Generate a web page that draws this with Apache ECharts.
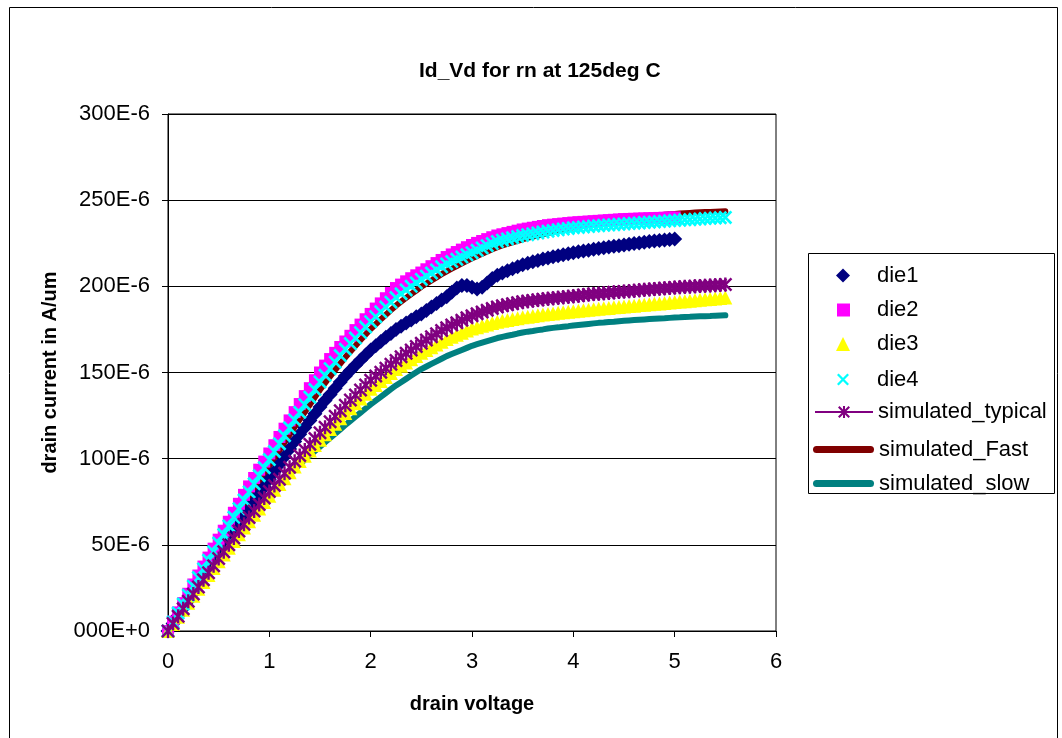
<!DOCTYPE html>
<html>
<head>
<meta charset="utf-8">
<script src="https://cdn.jsdelivr.net/npm/echarts@6.0.0/dist/echarts.min.js"></script>
<style>
  html, body { margin: 0; padding: 0; background: #ffffff; }
  #chart { width: 1062px; height: 738px; }
</style>
</head>
<body>
<div id="chart"></div>
<script>
// Drain voltage sweep (V)
const vd = [
  0,0.05,0.1,0.15,0.2,0.25,0.3,0.35,0.4,0.45,
  0.5,0.55,0.6,0.65,0.7,0.75,0.8,0.85,0.9,0.95,
  1,1.05,1.1,1.15,1.2,1.25,1.3,1.35,1.4,1.45,
  1.5,1.55,1.6,1.65,1.7,1.75,1.8,1.85,1.9,1.95,
  2,2.05,2.1,2.15,2.2,2.25,2.3,2.35,2.4,2.45,
  2.5,2.55,2.6,2.65,2.7,2.75,2.8,2.85,2.9,2.95,
  3,3.05,3.1,3.15,3.2,3.25,3.3,3.35,3.4,3.45,
  3.5,3.55,3.6,3.65,3.7,3.75,3.8,3.85,3.9,3.95,
  4,4.05,4.1,4.15,4.2,4.25,4.3,4.35,4.4,4.45,
  4.5,4.55,4.6,4.65,4.7,4.75,4.8,4.85,4.9,4.95,
  5,5.05,5.1,5.15,5.2,5.25,5.3,5.35,5.4,5.45,
  5.5
];

// Drain current, in units of 1E-6 A/um
const die1 = [
  0,4.4,8.8,13.2,17.6,22,26.4,30.8,35.2,39.6,
  44,48.4,52.8,57.2,61.6,66,70.4,74.8,79.2,83.6,
  88,92.4,96.8,101.2,105.6,110,114.1,118.1,122.1,126.1,
  130,133.7,137.3,140.9,144.5,148,151.1,154.2,157.2,160.1,
  163,165.5,168,170.4,172.7,175,176.9,178.7,180.5,182.3,
  184,186,188,190,192,194,196.5,199,200.5,200.5,
  199.5,198.5,199.5,202,204.5,206.5,207.8,209,210.2,211.4,
  212.5,213.4,214.2,215,215.8,216.5,217.1,217.7,218.3,218.9,
  219.5,220,220.5,221,221.5,222,222.4,222.8,223.2,223.6,
  224,224.4,224.8,225.2,225.6,226,226.3,226.6,226.9,227.2,
  227.5
];
const die2 = [
  0,5.4,10.8,16.2,21.6,27,32.2,37.4,42.6,47.8,
  53,58.2,63.4,68.6,73.8,79,83.9,88.8,93.6,98.3,
  103,107.8,112.6,117.4,122.2,127,131.7,136.3,140.9,145.5,
  150,154,157.8,161.4,164.8,168,171.3,174.6,177.8,180.9,
  184,187.1,190.1,193.1,196.1,199,201,202.9,204.7,206.4,
  208,209.9,211.7,213.5,215.3,217,218.5,219.9,221.3,222.7,
  224,225.2,226.3,227.4,228.5,229.5,230.2,230.9,231.6,232.3,
  233,233.5,234,234.5,235,235.5,235.8,236.1,236.4,236.7,
  237,237.2,237.4,237.6,237.8,238,238.2,238.4,238.6,238.8,
  239,239.1,239.2,239.3,239.4,239.5,239.6,239.7,239.8,239.9,
  240
];
const die3 = [
  0,4.1,8.2,12.3,16.4,20.5,24.5,28.5,32.5,36.5,
  40.5,44.4,48.3,52.2,56.1,60,63.7,67.4,71.1,74.8,
  78.5,81.9,85.3,88.7,92.1,95.5,98.6,101.7,104.8,107.9,
  111,114.1,117.2,120.3,123.4,126.5,129.3,132.1,134.9,137.7,
  140.5,142.8,145.1,147.4,149.7,152,153.9,155.8,157.7,159.6,
  161.5,163.1,164.7,166.3,167.9,169.5,170.7,171.9,173.1,174.3,
  175.5,176.3,177.1,177.9,178.7,179.5,180,180.5,181,181.5,
  182,182.4,182.8,183.2,183.6,184,184.3,184.6,184.9,185.2,
  185.5,185.8,186.1,186.4,186.7,187,187.3,187.5,187.8,188,
  188.3,188.6,188.8,189.1,189.3,189.6,189.9,190.1,190.4,190.6,
  190.9,191.2,191.4,191.7,191.9,192.2,192.5,192.7,193,193.2,
  193.5
];
const die4 = [
  0,5.2,10.4,15.6,20.8,26,31,36,41,46,
  51,56,61,66,71,76,80.7,85.4,90.1,94.8,
  99.5,104.1,108.7,113.3,117.9,122.5,126.9,131.3,135.7,140.1,
  144.5,148.4,152.2,156,159.8,163.5,166.8,170,173.2,176.4,
  179.5,182.4,185.2,188,190.8,193.5,195.7,197.9,200,202,
  204,205.9,207.7,209.5,211.3,213,214.4,215.7,217,218.3,
  219.5,220.9,222.3,223.6,224.8,226,226.8,227.5,228.2,228.9,
  229.5,230,230.5,231,231.5,232,232.4,232.8,233.2,233.6,
  234,234.2,234.5,234.7,235,235.2,235.4,235.6,235.8,236,
  236.2,236.4,236.6,236.8,237,237.2,237.4,237.6,237.8,238,
  238.2,238.4,238.6,238.7,238.9,239.1,239.3,239.5,239.6,239.8,
  240
];
const simTypical = [
  0,4.3,8.6,12.9,17.2,21.5,25.6,29.7,33.8,37.9,
  42,46,50,54,58,62,65.8,69.6,73.4,77.2,
  81,84.5,88,91.5,95,98.5,101.8,105.1,108.4,111.7,
  115,118.2,121.4,124.6,127.8,131,134,137,139.9,142.7,
  145.5,147.9,150.2,152.5,154.8,157,159.1,161.1,163.1,165.1,
  167,168.9,170.7,172.5,174.3,176,177.5,178.9,180.3,181.7,
  183,184.1,185.1,186.1,187.1,188,188.7,189.3,189.9,190.5,
  191,191.4,191.8,192.1,192.5,192.8,193.1,193.4,193.7,194,
  194.3,194.6,194.9,195.2,195.5,195.7,196,196.2,196.5,196.7,
  197,197.2,197.5,197.7,198,198.2,198.4,198.6,198.9,199.1,
  199.3,199.5,199.7,199.8,200,200.2,200.4,200.5,200.7,200.8,
  201
];
const simFast = [
  0,4.9,9.8,14.7,19.6,24.5,29.3,34.1,38.9,43.7,
  48.5,53.3,58.1,62.9,67.7,72.5,77.2,81.9,86.6,91.3,
  96,100.5,105,109.5,114,118.5,122.8,127.1,131.4,135.7,
  140,143.9,147.7,151.5,155.2,158.8,162.2,165.5,168.8,172,
  175.2,178,180.8,183.5,186.2,188.8,191.1,193.3,195.5,197.6,
  199.7,201.6,203.4,205.2,207,208.7,210.3,211.8,213.3,214.8,
  216.2,217.6,218.9,220.2,221.5,222.7,223.7,224.6,225.5,226.4,
  227.3,228.1,228.8,229.5,230.2,230.9,231.6,232.3,233,233.7,
  234.3,234.8,235.3,235.8,236.3,236.8,237.2,237.6,238,238.4,
  238.8,239.2,239.6,240,240.3,240.6,240.9,241.2,241.5,241.8,
  242,242.2,242.4,242.6,242.8,243,243.1,243.2,243.3,243.4,
  243.5
];
const simSlow = [
  0,4.1,8.2,12.3,16.4,20.5,24.6,28.7,32.8,36.9,
  41,44.8,48.6,52.4,56.2,60,63.6,67.2,70.8,74.4,
  78,81.3,84.6,87.8,90.9,94,96.7,99.3,101.9,104.5,
  107,109.5,112,114.5,117,119.5,121.9,124.3,126.7,129.1,
  131.5,133.7,135.9,138.1,140.3,142.5,144.4,146.3,148.2,150.1,
  152,153.5,155,156.5,158,159.5,160.7,161.9,163.1,164.3,
  165.5,166.4,167.3,168.2,169.1,170,170.7,171.3,171.9,172.6,
  173.2,173.7,174.1,174.6,175,175.5,175.9,176.2,176.6,176.9,
  177.3,177.6,177.9,178.2,178.5,178.8,179,179.3,179.5,179.8,
  180,180.2,180.4,180.6,180.8,181,181.2,181.4,181.5,181.7,
  181.9,182,182.2,182.3,182.5,182.6,182.7,182.8,183,183.1,
  183.2
];

// Y tick labels, one per 50E-6 step
const yTickLabels = ['000E+0', '50E-6', '100E-6', '150E-6', '200E-6', '250E-6', '300E-6'];

const FONT = 'Liberation Sans, Arial, sans-serif';

// Marker shapes
const STAR = 'path://M8.3,0L11.7,0L11.7,20L8.3,20Z M0,2.5L2.5,0L20,17.5L17.5,20Z M17.5,0L20,2.5L2.5,20L0,17.5Z';
const CROSS = 'path://M0,2.7L2.7,0L20,17.3L17.3,20Z M17.3,0L20,2.7L2.7,20L0,17.3Z';
const BAR = 'path://M3.5,0L57.5,0A3.5,3.5,0,0,1,57.5,7L3.5,7A3.5,3.5,0,0,1,3.5,0Z';

const pairs = ys => ys.map((y, i) => [vd[i], y]);

function markerSeries(name, ys, symbol, size, color) {
  return {
    name, type: 'scatter', data: pairs(ys), symbol, symbolSize: size, z: 3,
    itemStyle: { color, opacity: 1 }, emphasis: { disabled: true }
  };
}

// One legend block per entry so each row sits at its own position
function legendRow(name, icon, w, h, cx, cy, left, textX) {
  const l = left != null ? left : Math.round(cx - w / 2);
  const item = icon ? { name, icon } : { name };
  return {
    data: [item], left: l, top: cy - h / 2, itemWidth: w, itemHeight: h,
    padding: 0, itemGap: 0, selectedMode: false, orient: 'vertical',
    textStyle: { fontFamily: FONT, fontSize: 22, color: '#000',
                 padding: [0, 0, 0, Math.max(0, textX - (l + w + 5))] }
  };
}

const chart = echarts.init(document.getElementById('chart'), null, { renderer: 'canvas' });
chart.setOption({
  animation: false,
  backgroundColor: '#ffffff',
  title: {
    text: 'Id_Vd for rn at 125deg C', left: 414, top: 56,
    textStyle: { fontFamily: FONT, fontSize: 21, fontWeight: 'bold', color: '#000' }
  },
  graphic: [
    { type: 'rect', shape: { x: 9.5, y: 7.5, width: 1048, height: 740 },
      style: { fill: 'none', stroke: '#000', lineWidth: 1 }, silent: true },
    { type: 'rect', shape: { x: 808.5, y: 253.5, width: 246, height: 240 },
      style: { fill: '#fff', stroke: '#000', lineWidth: 1 }, silent: true, z: -1 }
  ],
  legend: [
    legendRow('die1', 'diamond', 14, 14, 843, 271.5, null, 877),
    legendRow('die2', 'rect', 13, 13, 843, 305.5, null, 877),
    legendRow('die3', 'triangle', 14, 14, 843, 340, null, 877),
    legendRow('die4', CROSS, 12, 12, 843, 374.5, null, 877),
    legendRow('simulated_typical', null, 58, 15, 843, 408.5, 814, 877),
    legendRow('simulated_Fast', BAR, 61, 7, 843, 442, 813, 877),
    legendRow('simulated_slow', BAR, 61, 7, 843, 476, 813, 877)
  ],
  grid: {
    left: 168, top: 114, right: 286, bottom: 107,
    show: true, borderColor: '#000', borderWidth: 1, backgroundColor: 'transparent'
  },
  xAxis: {
    type: 'value', min: 0, max: 6, interval: 1,
    name: 'drain voltage', nameLocation: 'middle', nameGap: 63,
    nameTextStyle: { fontFamily: FONT, fontSize: 20, fontWeight: 'bold', color: '#000' },
    axisLine: { show: true, onZero: false, lineStyle: { color: '#000', width: 1 } },
    axisTick: { show: true, inside: false, length: 6, lineStyle: { color: '#000' } },
    axisLabel: { fontFamily: FONT, fontSize: 22, color: '#000', margin: 20 },
    splitLine: { show: false }
  },
  yAxis: {
    type: 'value', min: 0, max: 300, interval: 50,
    name: 'drain current in A/um', nameLocation: 'middle', nameGap: 108,
    nameTextStyle: { fontFamily: FONT, fontSize: 20, fontWeight: 'bold', color: '#000' },
    axisLine: { show: true, lineStyle: { color: '#000', width: 1 } },
    axisTick: { show: true, inside: false, length: 6, lineStyle: { color: '#000' } },
    axisLabel: {
      fontFamily: FONT, fontSize: 22, color: '#000', margin: 18,
      formatter: v => yTickLabels[Math.round(v / 50)]
    },
    splitLine: { show: true, lineStyle: { color: '#000', width: 1 } }
  },
  series: [
    markerSeries('die1', die1, 'diamond', 15, '#000080'),
    markerSeries('die2', die2, 'rect', 12, '#FF00FF'),
    markerSeries('die3', die3, 'triangle', 14, '#FFFF00'),
    markerSeries('die4', die4, CROSS, 14, '#00FFFF'),
    {
      name: 'simulated_typical', type: 'line', data: pairs(simTypical), z: 4,
      symbol: STAR, symbolSize: 14, showSymbol: true, showAllSymbol: true,
      itemStyle: { color: '#800080', borderWidth: 0 },
      lineStyle: { color: '#800080', width: 2 }, emphasis: { disabled: true }
    },
    {
      name: 'simulated_Fast', type: 'line', data: pairs(simFast), z: 2,
      symbol: 'none', itemStyle: { color: '#800000' },
      lineStyle: { color: '#800000', width: 6, cap: 'round', join: 'round' },
      emphasis: { disabled: true }
    },
    {
      name: 'simulated_slow', type: 'line', data: pairs(simSlow), z: 2,
      symbol: 'none', itemStyle: { color: '#008080' },
      lineStyle: { color: '#008080', width: 6, cap: 'round', join: 'round' },
      emphasis: { disabled: true }
    }
  ]
});
</script>
</body>
</html>
